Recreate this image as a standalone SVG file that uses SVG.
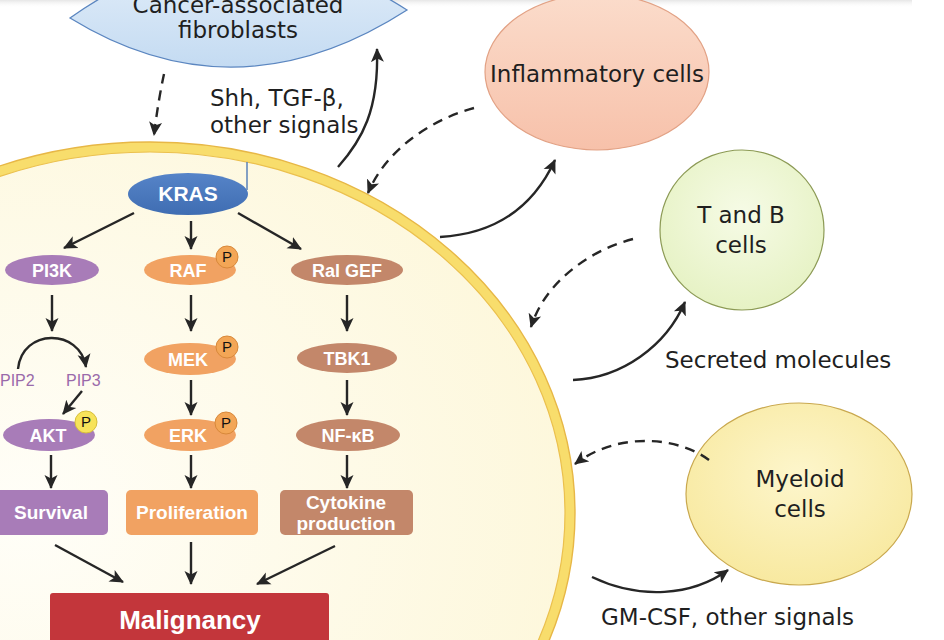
<svg xmlns="http://www.w3.org/2000/svg" width="944" height="640" viewBox="0 0 944 640">
<defs>
<radialGradient id="cellFill" cx="0.35" cy="0.5" r="0.7">
<stop offset="0" stop-color="#fffef8"/>
<stop offset="1" stop-color="#fdf7da"/>
</radialGradient>
<linearGradient id="blueFill" x1="0" y1="0" x2="0" y2="1">
<stop offset="0" stop-color="#e3eef9"/>
<stop offset="1" stop-color="#c4dbf2"/>
</linearGradient>
<linearGradient id="peachFill" x1="0" y1="0" x2="0" y2="1">
<stop offset="0" stop-color="#fbdccb"/>
<stop offset="1" stop-color="#f7c1aa"/>
</linearGradient>
<radialGradient id="greenFill" cx="0.5" cy="0.4" r="0.6">
<stop offset="0" stop-color="#f6fbe6"/>
<stop offset="1" stop-color="#e6f2c4"/>
</radialGradient>
<radialGradient id="yellowFill" cx="0.5" cy="0.4" r="0.6">
<stop offset="0" stop-color="#fdf6cc"/>
<stop offset="1" stop-color="#f8e9a0"/>
</radialGradient>
<linearGradient id="krasFill" x1="0" y1="0" x2="0" y2="1">
<stop offset="0" stop-color="#5684c8"/>
<stop offset="1" stop-color="#3f6db2"/>
</linearGradient>
<linearGradient id="topShade" x1="0" y1="0" x2="0" y2="1">
<stop offset="0" stop-color="#e6e6e6"/>
<stop offset="1" stop-color="#ffffff" stop-opacity="0"/>
</linearGradient>
<marker id="ah" markerWidth="15" markerHeight="15" refX="13" refY="7.5" orient="auto" markerUnits="userSpaceOnUse">
<path d="M0,1 L14,7.5 L0,14 L3.5,7.5 Z" fill="#262626"/>
</marker>
</defs>
<style>
.outer{font-family:"DejaVu Sans","Liberation Sans",sans-serif;font-size:23px;fill:#1f1f1f;}
.lbl{font-family:"Liberation Sans",Arial,sans-serif;font-weight:bold;fill:#ffffff;text-anchor:middle;}
.pip{font-family:"Liberation Sans",Arial,sans-serif;font-size:16px;fill:#9a6aaa;}
.pl{font-family:"Liberation Sans",Arial,sans-serif;font-size:15px;fill:#111;text-anchor:middle;}
.arr{fill:none;stroke:#262626;stroke-width:2.4;marker-end:url(#ah);}
.dash{stroke-dasharray:10 7;}
.purple{fill:#a87cb8;}
.orange{fill:#f1a262;}
.brown{fill:#c3876a;}
.pbo{fill:#f3a656;stroke:#d8883a;stroke-width:1;}
.pby{fill:#f7e35a;stroke:#d6be3c;stroke-width:1;}
</style>
<rect width="944" height="640" fill="#ffffff"/>
<rect x="0" y="0" width="912" height="8" fill="url(#topShade)"/>

<!-- Tumour cell -->
<g id="tumour-cell">
<ellipse cx="150" cy="513" rx="420" ry="366" fill="url(#cellFill)" stroke="#f8dd6c" stroke-width="10"/>
<ellipse cx="150" cy="513" rx="425" ry="371" fill="none" stroke="#e7b746" stroke-width="1.4"/>
<ellipse cx="150" cy="513" rx="415" ry="361" fill="none" stroke="#ebc04e" stroke-width="1.2"/>
</g>

<!-- External nodes -->
<g id="fibroblasts">
<path d="M70,18 Q236,120 407,10 Q236,-100 70,18 Z" fill="url(#blueFill)" stroke="#5b86c0" stroke-width="1.3"/>
<text class="outer" x="238" y="13" text-anchor="middle" font-size="21">Cancer-associated</text>
<text class="outer" x="238" y="38" text-anchor="middle" font-size="21">fibroblasts</text>
</g>
<g id="inflammatory">
<ellipse cx="597" cy="72" rx="112" ry="78" fill="url(#peachFill)" stroke="#e2a184" stroke-width="1.2"/>
<text class="outer" x="597" y="82" text-anchor="middle" font-size="24">Inflammatory cells</text>
</g>
<g id="tb-cells">
<ellipse cx="742" cy="230" rx="82" ry="80" fill="url(#greenFill)" stroke="#8c9a55" stroke-width="1.2"/>
<text class="outer" x="741" y="223" text-anchor="middle">T and B</text>
<text class="outer" x="741" y="253" text-anchor="middle">cells</text>
</g>
<g id="myeloid">
<ellipse cx="799" cy="494" rx="113" ry="91" fill="url(#yellowFill)" stroke="#c9a84e" stroke-width="1.2"/>
<text class="outer" x="800" y="487" text-anchor="middle" font-size="24">Myeloid</text>
<text class="outer" x="800" y="517" text-anchor="middle" font-size="24">cells</text>
</g>

<!-- Signal labels -->
<g id="signal-labels">
<text class="outer" x="210" y="106" font-size="24">Shh, TGF-β,</text>
<text class="outer" x="210" y="133" font-size="24">other signals</text>
<text class="outer" x="665" y="368" font-size="24">Secreted molecules</text>
<text class="outer" x="601" y="625" font-size="23.8">GM-CSF, other signals</text>
</g>

<!-- Inner nodes -->
<g id="kras">
<line x1="247" y1="162" x2="247" y2="190" stroke="#5a82b8" stroke-width="1.5"/>
<ellipse cx="188" cy="194" rx="60" ry="21" fill="url(#krasFill)"/>
<text class="lbl" x="188" y="201" font-size="21">KRAS</text>
</g>
<g id="pi3k"><ellipse class="purple" cx="52" cy="270" rx="47" ry="15"/><text class="lbl" x="52" y="277" font-size="18">PI3K</text></g>
<g id="raf"><ellipse class="orange" cx="190" cy="270" rx="46" ry="15"/><text class="lbl" x="188" y="277" font-size="18">RAF</text>
<circle class="pbo" cx="227" cy="257" r="11"/><text class="pl" x="227" y="262">P</text></g>
<g id="ralgef"><ellipse class="brown" cx="347" cy="270" rx="56" ry="15"/><text class="lbl" x="347" y="277" font-size="18">Ral GEF</text></g>
<g id="pip">
<text class="pip" x="0" y="386">PIP2</text>
<text class="pip" x="66" y="386">PIP3</text>
</g>
<g id="mek"><ellipse class="orange" cx="190" cy="359" rx="46" ry="16"/><text class="lbl" x="188" y="366" font-size="18">MEK</text>
<circle class="pbo" cx="227" cy="347" r="11"/><text class="pl" x="227" y="352">P</text></g>
<g id="tbk1"><ellipse class="brown" cx="347" cy="358" rx="50" ry="15"/><text class="lbl" x="347" y="365" font-size="18">TBK1</text></g>
<g id="akt"><ellipse class="purple" cx="49" cy="435" rx="46" ry="16"/><text class="lbl" x="48" y="442" font-size="18">AKT</text>
<circle class="pby" cx="86" cy="422" r="11"/><text class="pl" x="86" y="427">P</text></g>
<g id="erk"><ellipse class="orange" cx="190" cy="435" rx="46" ry="16"/><text class="lbl" x="188" y="442" font-size="18">ERK</text>
<circle class="pbo" cx="226" cy="423" r="11"/><text class="pl" x="226" y="428">P</text></g>
<g id="nfkb"><ellipse class="brown" cx="348" cy="435" rx="52" ry="16"/><text class="lbl" x="348" y="442" font-size="18">NF-κB</text></g>
<g id="survival"><rect class="purple" x="-6" y="490" width="114" height="45" rx="5"/><text class="lbl" x="51" y="519" font-size="19">Survival</text></g>
<g id="proliferation"><rect class="orange" x="126" y="490" width="132" height="45" rx="5"/><text class="lbl" x="192" y="519" font-size="19">Proliferation</text></g>
<g id="cytokine"><rect class="brown" x="280" y="490" width="133" height="45" rx="5"/><text class="lbl" x="346" y="509" font-size="19">Cytokine</text><text class="lbl" x="346" y="530" font-size="19">production</text></g>
<g id="malignancy"><rect x="50" y="593" width="279" height="60" rx="3" fill="#c3363b"/><text class="lbl" x="190" y="629" font-size="26">Malignancy</text></g>

<!-- Connectors -->
<g id="connectors">
<path class="arr dash" d="M164,74 Q158,102 154,135"/>
<path class="arr" d="M338,167 C362,140 379,110 377,49"/>
<path class="arr dash" d="M474,108 C430,120 386,150 368,193"/>
<path class="arr" d="M440,237 C492,234 532,210 555,160"/>
<path class="arr dash" d="M633,239 C590,250 545,282 531,327"/>
<path class="arr" d="M573,380 C622,378 666,346 685,302"/>
<path class="arr dash" d="M709,460 C680,438 620,430 575,464"/>
<path class="arr" d="M592,577 C640,600 692,596 728,570"/>

<path class="arr" d="M134,213 L64,248"/>
<path class="arr" d="M191,221 L191,249"/>
<path class="arr" d="M238,213 L301,249"/>
<path class="arr" d="M52,295 L52,331"/>
<path class="arr" d="M191,295 L191,331"/>
<path class="arr" d="M347,295 L347,331"/>
<path class="arr" d="M18,369 C22,328 80,328 86,367"/>
<path class="arr" d="M82,391 L63,414"/>
<path class="arr" d="M191,380 L191,415"/>
<path class="arr" d="M347,380 L347,415"/>
<path class="arr" d="M51,455 L51,488"/>
<path class="arr" d="M191,455 L191,488"/>
<path class="arr" d="M347,455 L347,488"/>
<path class="arr" d="M55,545 L123,582"/>
<path class="arr" d="M191,542 L191,584"/>
<path class="arr" d="M335,546 L257,584"/>
</g>
</svg>
